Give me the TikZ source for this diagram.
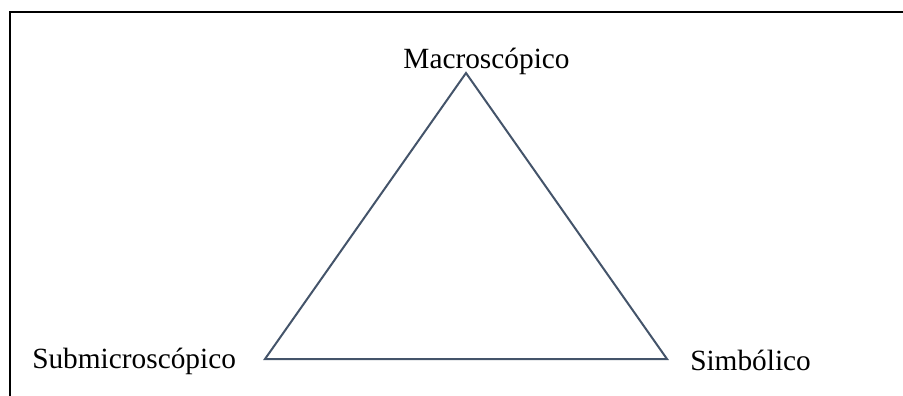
\documentclass[tikz,border=0pt]{standalone}
\usepackage{fontspec}
\setmainfont{Liberation Serif}
\definecolor{edgeblue}{HTML}{44546A}
\begin{document}
\begin{tikzpicture}[x=0.75pt,y=-0.75pt,
  lbl/.style={inner sep=0pt,font=\fontsize{22}{26}\selectfont},
  frame/.style={line width=1.5pt,black},
  tri/.style={line width=1.5pt,edgeblue,line join=miter}]
\useasboundingbox (0,0) rectangle (903,396);
\coordinate (f1) at (10,396);
\coordinate (f2) at (10,12);
\coordinate (f3) at (903,12);
\draw[frame] (f1) -- (f2) -- (f3);
\coordinate (top) at (466,73);
\coordinate (bl) at (265,359);
\coordinate (br) at (667,359);
\draw[tri] (top) -- (bl) -- (br) -- cycle;
\node[lbl,anchor=base] (macro) at (486.5,68) {Macroscópico};
\node[lbl,anchor=base west] (sub) at (32,368) {Submicroscópico};
\node[lbl,anchor=base west] (sim) at (690,370) {Simbólico};
\end{tikzpicture}
\end{document}
